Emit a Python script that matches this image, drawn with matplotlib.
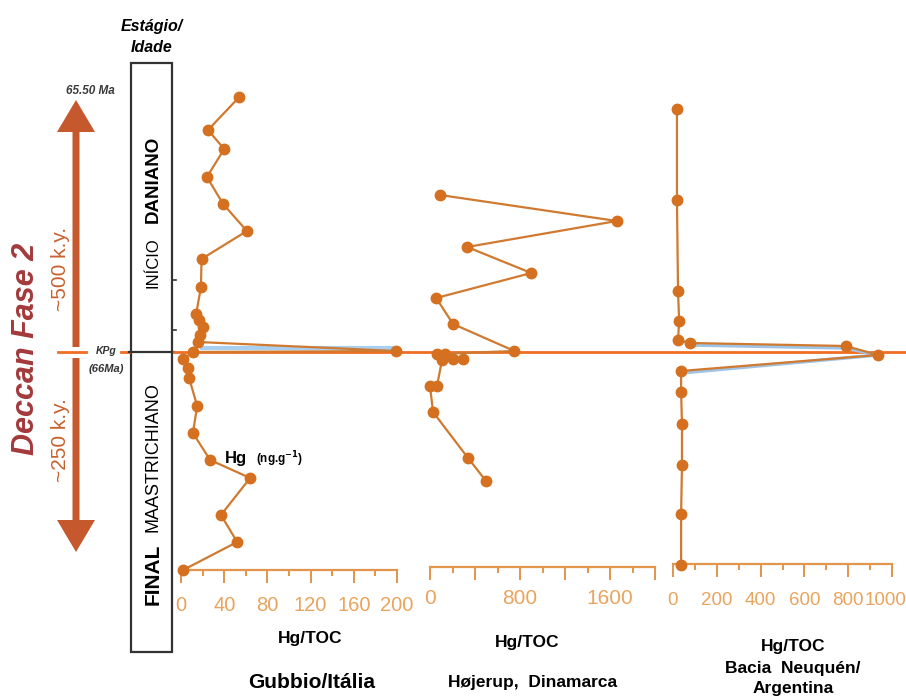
import numpy as np
import matplotlib
matplotlib.use('Agg')
import matplotlib.pyplot as plt
import matplotlib.transforms as mtransforms
from matplotlib.patches import Rectangle, FancyArrow
from matplotlib.ticker import MultipleLocator, FixedLocator, FuncFormatter

plt.rcParams['font.family'] = ['Liberation Sans', 'DejaVu Sans']

# stratigraphic position relative to the KPg boundary (0), arbitrary units, up = younger
gub_y = [255, 222, 203, 175, 148, 121, 93, 65, 38, 32, 25, 17, 10, 1, 0,
         -7, -16, -26, -54, -81, -108, -126, -163, -190, -218]
gub_x = [54, 25, 40, 24, 39, 61, 19, 18.5, 14, 17, 20, 18, 16, 199, 11,
         2, 6.5, 7.5, 15, 11, 27, 64, 37, 52, 2]
gub_blue_x = [18, 197]
gub_blue_y = [4, 4]

hoj_y = [157, 131, 105, 79, 54, 28, 1, -2, -2, -7, -7, -8, -34, -34, -60, -106, -129]
hoj_x = [90, 1660, 330, 900, 55, 205, 750, 62, 133, 293, 204, 107, 62, 0, 27, 338, 498]

neu_y = [243, 152, 61, 31, 12, 9, 6, -3, -19, -40, -72, -113, -162, -213]
neu_x = [18, 18, 23, 28, 23, 78, 789, 936, 37, 37, 41, 41, 37, 37]
neu_blue_x = [78, 789, 936, 37]
neu_blue_y = [7, 4, -3, -21]

W, H = 906, 697
fig = plt.figure(figsize=(W / 100, H / 100), dpi=100)
fig.patch.set_facecolor('white')

# overlay in pixel coordinates for the annotations
bg = fig.add_axes([0, 0, 1, 1])
bg.set_xlim(0, W)
bg.set_ylim(H, 0)
bg.axis('off')

KPG = 352
PTOP, PBOT = 80, 600
LINE_C = '#cf7a30'
MARK_C = '#d4701f'
AX_C = '#e2954c'
LBL_C = '#e9a45e'


def panel(x0, x1, xmax, y_axis_px, xs, ys, major, minor, labels, lsize, pad):
    ax = fig.add_axes([x0 / W, 1 - PBOT / H, (x1 - x0) / W, (PBOT - PTOP) / H])
    ax.patch.set_alpha(0)
    ax.set_xlim(0, xmax)
    ax.set_ylim(KPG - PBOT, KPG - PTOP)
    for s in ['top', 'right', 'left']:
        ax.spines[s].set_visible(False)
    ax.spines['bottom'].set_position(('data', KPG - y_axis_px))
    ax.spines['bottom'].set_color(AX_C)
    ax.spines['bottom'].set_linewidth(1.6)
    ax.set_yticks([])
    ax.xaxis.set_major_locator(FixedLocator(major))
    ax.xaxis.set_minor_locator(MultipleLocator(minor))
    ax.xaxis.set_major_formatter(FuncFormatter(
        lambda v, p: ('%d' % v) if int(round(v)) in labels else ''))
    ax.tick_params(axis='x', which='major', direction='out', length=9.5, width=1.4,
                   color=AX_C, labelcolor=LBL_C, labelsize=lsize, pad=pad)
    ax.tick_params(axis='x', which='minor', direction='out', length=4.5, width=1.4,
                   color=AX_C)
    ax.plot(xs, ys, '-o', color=LINE_C, lw=1.6, marker='o', ms=7.5,
            mfc=MARK_C, mec=MARK_C, clip_on=False, zorder=3)
    return ax


ax1 = panel(181, 397, 200, 570, gub_x, gub_y, list(range(0, 201, 40)), 20,
            [0, 40, 80, 120, 160, 200], 14.5, 9)
ax1.plot(gub_blue_x, gub_blue_y, color='#a9cff0', lw=3, zorder=2, solid_capstyle='butt')

ax2 = panel(430, 655, 2000, 567, hoj_x, hoj_y, list(range(0, 2001, 400)), 200,
            [0, 800, 1600], 15, 6)

ax3 = panel(673, 892, 1000, 564, neu_x, neu_y, list(range(0, 1001, 200)), 100,
            [0, 200, 400, 600, 800, 1000], 13.5, 10.5)
ax3.plot(neu_blue_x, neu_blue_y, color='#9fc4e6', lw=2.5, zorder=2)
fig.canvas.draw()
last = [t for t in ax3.get_xticklabels() if t.get_text() == '1000']
for t in last:
    t.set_transform(t.get_transform() +
                    mtransforms.ScaledTranslation(-6 / 100, 0, fig.dpi_scale_trans))

# KPg boundary
ORG = '#f06d24'
bg.plot([58, 86], [KPG, KPG], color=ORG, lw=2, zorder=5)
bg.plot([121, 129], [KPG, KPG], color=ORG, lw=2, zorder=5)
bg.plot([129, 174], [KPG, KPG], color='#333333', lw=1.6, zorder=5)
bg.plot([174, W], [KPG, KPG], color=ORG, lw=2, zorder=5)
bg.text(106, 351, 'KPg', ha='center', va='center', fontsize=7.5,
        style='italic', weight='bold', color='#333333')
bg.text(106, 369, '(66Ma)', ha='center', va='center', fontsize=8,
        style='italic', weight='bold', color='#333333')

# stage column
bg.add_patch(Rectangle((131, 63), 41, 589, fill=False, ec='#333333', lw=1.6))
bg.plot([172, 176], [280, 280], color='#333333', lw=1.2)
bg.plot([172, 176], [330, 330], color='#333333', lw=1.2)
bg.text(152, 26, 'Estágio/', ha='center', va='center', fontsize=11.5,
        style='italic', weight='bold')
bg.text(152, 48, 'Idade', ha='center', va='center', fontsize=11.5,
        style='italic', weight='bold')
bg.text(153, 263, 'INÍCIO', ha='center', va='center', rotation=90, fontsize=12)
bg.text(153, 179, 'DANIANO', ha='center', va='center', rotation=90, fontsize=13.5,
        weight='bold')
bg.text(153, 457, 'MAASTRICHIANO', ha='center', va='center', rotation=90, fontsize=13)
bg.text(153, 574, 'FINAL', ha='center', va='center', rotation=90, fontsize=15,
        weight='bold')

# Deccan phase arrows
ARR = '#c5582c'
bg.add_patch(FancyArrow(76, 347, 0, -247, width=7, head_width=38, head_length=32,
                        length_includes_head=True, color=ARR, lw=0))
bg.add_patch(FancyArrow(76, 358, 0, 194, width=7, head_width=38, head_length=32,
                        length_includes_head=True, color=ARR, lw=0))
bg.text(90, 91, '65.50 Ma', ha='center', va='center', fontsize=8.5,
        style='italic', weight='bold', color='#3a3a3a')
bg.text(26, 349, 'Deccan Fase 2', ha='center', va='center', rotation=90,
        fontsize=22, style='italic', weight='bold', color='#a3393b')
bg.text(61, 269, '~500 k.y.', ha='center', va='center', rotation=90,
        fontsize=15, color='#c8612f')
bg.text(61, 440, '~250 k.y.', ha='center', va='center', rotation=90,
        fontsize=15, color='#c8612f')

# labels
bg.text(225, 458, 'Hg', ha='left', va='center', fontsize=12, weight='bold')
bg.text(256, 459, '(ng.g$^{\\mathbf{-1}}$)', ha='left', va='center', fontsize=8.5,
        weight='bold')
bg.text(310, 638, 'Hg/TOC', ha='center', va='center', fontsize=12.5, weight='bold')
bg.text(312, 683, 'Gubbio/Itália', ha='center', va='center', fontsize=15, weight='bold')
bg.text(527, 643, 'Hg/TOC', ha='center', va='center', fontsize=12.5, weight='bold')
bg.text(533, 683, 'Højerup,  Dinamarca', ha='center', va='center', fontsize=12.5,
        weight='bold')
bg.text(793, 647, 'Hg/TOC', ha='center', va='center', fontsize=12.5, weight='bold')
bg.text(793, 668, 'Bacia  Neuquén/', ha='center', va='center', fontsize=12.5,
        weight='bold')
bg.text(793, 688, 'Argentina', ha='center', va='center', fontsize=12.5, weight='bold')

fig.savefig('out.png', dpi=100, facecolor='white')
